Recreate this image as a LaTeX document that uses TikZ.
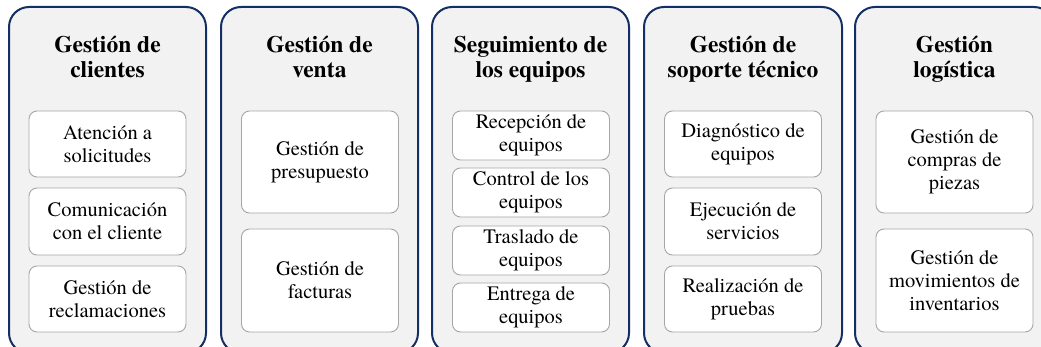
\documentclass[tikz,border=0pt]{standalone}
\usepackage{fontspec}
\setmainfont{texgyretermes}[Extension=.otf, UprightFont=*-regular, BoldFont=*-bold, ItalicFont=*-italic, BoldItalicFont=*-bolditalic]
\definecolor{navy}{HTML}{142F63}
\definecolor{panelfill}{HTML}{F2F2F2}
\definecolor{itemline}{HTML}{A6A6A6}
\tikzset{
  panel/.style={draw=navy, line width=2pt, fill=panelfill, rounded corners=20pt},
  paneltitle/.style={align=center, inner sep=0pt, anchor=base,
    font=\rmfamily\fontsize{23.5}{25}\selectfont\bfseries},
  item/.style={draw=itemline, line width=0.9pt, fill=white, rounded corners=8pt,
    minimum width=157pt, inner sep=2pt, align=center,
    font=\rmfamily\fontsize{20.5}{23}\selectfont},
}
\begin{document}
\begin{tikzpicture}[x=1pt,y=-1pt]
\useasboundingbox (0,0) rectangle (1041,347);
\clip (0,0) rectangle (1041,347);
% panels
\draw[panel] (9,7) rectangle (206,353);
\draw[panel] (221,7) rectangle (418,353);
\draw[panel] (432,7) rectangle (629,353);
\draw[panel] (644,7) rectangle (842,353);
\draw[panel] (855,7) rectangle (1054,353);
% titles
\node[paneltitle] (t1) at (107.5,78) {Gestión de\\clientes};
\node[paneltitle] (t2) at (319.5,78) {Gestión de\\venta};
\node[paneltitle] (t3) at (530.5,78) {Seguimiento de\\los equipos};
\node[paneltitle] (t4) at (743,78) {Gestión de\\soporte técnico};
\node[paneltitle] (t5) at (954.5,78) {Gestión\\logística};
% column 1
\node[item, minimum height=66pt] (a1) at (107.5,144) {Atención a\\solicitudes};
\node[item, minimum height=67pt] (a2) at (107.5,221.5) {Comunicación\\con el cliente};
\node[item, minimum height=66pt] (a3) at (107.5,299) {Gestión de\\reclamaciones};
% column 2
\node[item, minimum height=102pt] (b1) at (320,162) {Gestión de\\presupuesto};
\node[item, minimum height=103pt] (b2) at (320,280.5) {Gestión de\\facturas};
% column 3
\node[item, minimum height=49pt] (c1) at (531,135.5) {Recepción de\\equipos};
\node[item, minimum height=49pt] (c2) at (531,192.5) {Control de los\\equipos};
\node[item, minimum height=49pt] (c3) at (531,250.5) {Traslado de\\equipos};
\node[item, minimum height=49pt] (c4) at (531,307.5) {Entrega de\\equipos};
% column 4
\node[item, minimum height=66pt] (d1) at (743,144) {Diagnóstico de\\equipos};
\node[item, minimum height=67pt] (d2) at (743,221.5) {Ejecución de\\servicios};
\node[item, minimum height=66pt] (d3) at (743,299) {Realización de\\pruebas};
% column 5
\node[item, minimum height=102pt] (e1) at (954.5,162) {Gestión de\\compras de\\piezas};
\node[item, minimum height=103pt] (e2) at (954.5,280.5) {Gestión de\\movimientos de\\inventarios};
\end{tikzpicture}
\end{document}
